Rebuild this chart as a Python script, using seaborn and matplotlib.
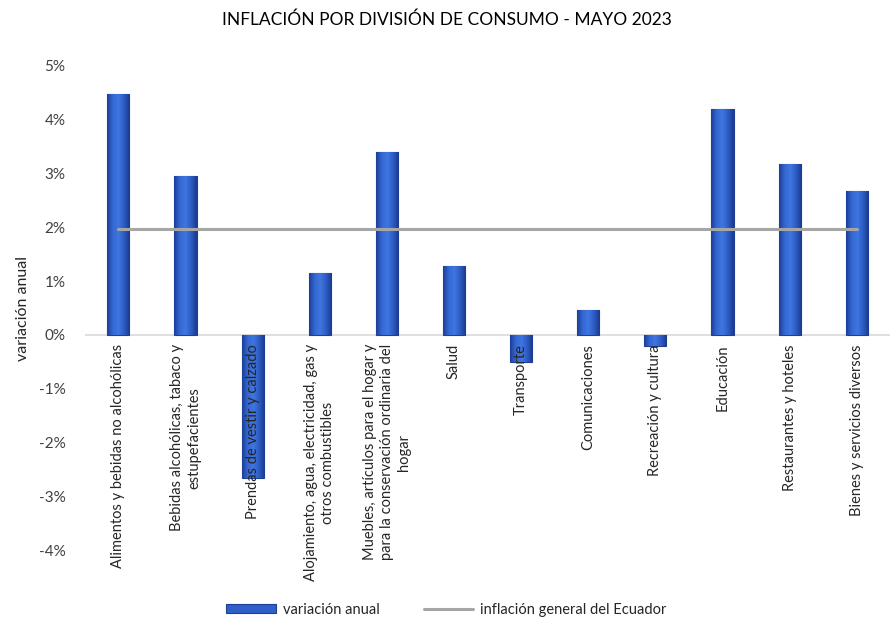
import numpy as np
import pandas as pd
import matplotlib
matplotlib.use("Agg")
import matplotlib.pyplot as plt
from matplotlib.patches import Patch
from matplotlib.lines import Line2D
from matplotlib.colors import LinearSegmentedColormap
import seaborn as sns

# Annual inflation by consumption division, May 2023 (%)
categorias = [
    "Alimentos y bebidas no alcohólicas",
    "Bebidas alcohólicas, tabaco y\nestupefacientes",
    "Prendas de vestir y calzado",
    "Alojamiento, agua, electricidad, gas y\notros combustibles",
    "Muebles, artículos para el hogar y\npara la conservación ordinaria del\nhogar",
    "Salud",
    "Transporte",
    "Comunicaciones",
    "Recreación y cultura",
    "Educación",
    "Restaurantes y hoteles",
    "Bienes y servicios diversos",
]
variacion_anual = [4.48, 2.96, -2.66, 1.15, 3.40, 1.28, -0.50, 0.46, -0.20, 4.20, 3.18, 2.68]
inflacion_general = 1.97
y_ticks = [5, 4, 3, 2, 1, 0, -1, -2, -3, -4]
y_tick_labels = ["5%", "4%", "3%", "2%", "1%", "0%", "-1%", "-2%", "-3%", "-4%"]

sns.set_theme(style="white")
plt.rcParams["font.family"] = ["Lato", "DejaVu Sans"]

df = pd.DataFrame({"division": categorias, "variacion": variacion_anual})

fig = plt.figure(figsize=(8.93, 6.21), dpi=100)
ax = fig.add_axes([0.095, 0.114, 0.902, 0.780])

sns.barplot(data=df, x="division", y="variacion", ax=ax, width=0.33,
            color="#2F5FC8", edgecolor="#1E3F95", linewidth=0.8,
            saturation=1, zorder=2)

# Horizontal shading on each bar for a rounded, beveled look
bar_cmap = LinearSegmentedColormap.from_list(
    "bevel", ["#1C3E96", "#3568D4", "#3F76E0", "#2E5CC4", "#1A3A8C"])
grad = np.linspace(0, 1, 64).reshape(1, -1)
for p in ax.patches:
    x0, y0 = p.get_x(), p.get_y()
    w, h = p.get_width(), p.get_height()
    im = ax.imshow(grad, cmap=bar_cmap, aspect="auto",
                   extent=[x0, x0 + w, min(y0, y0 + h), max(y0, y0 + h)],
                   zorder=2.5, interpolation="bicubic")
    im.set_clip_path(p)

# General inflation reference line
n = len(categorias)
sns.lineplot(x=np.arange(n), y=[inflacion_general] * n, ax=ax,
             color="#A6A6A6", linewidth=2.2, zorder=3)

ax.set_xlim(-0.5, n - 0.5)
ax.set_ylim(-4, 5)
ax.axhline(0, color="#D9D9D9", linewidth=1.2, zorder=1)

ax.set_yticks(y_ticks)
ax.set_yticklabels(y_tick_labels, fontsize=11, color="#404040")
ax.tick_params(axis="y", length=0, pad=14)

ax.set_xticks(range(n))
ax.set_xticklabels([])
ax.tick_params(axis="x", length=0)
for i, lab in enumerate(categorias):
    ax.text(i, -0.17, lab, rotation=90, ha="center", va="top",
            multialignment="center", fontsize=10.5, linespacing=1.25,
            color="#262626", zorder=4)

ax.set_xlabel("")
ax.set_ylabel("variación anual", fontsize=11.5, color="#262626", labelpad=6)
for s in ax.spines.values():
    s.set_visible(False)

fig.text(0.5, 0.968, "INFLACIÓN POR DIVISIÓN DE CONSUMO - MAYO 2023",
         ha="center", va="center", fontsize=12.5, color="black")

handles = [
    Patch(facecolor="#2F5FC8", edgecolor="#1E3F95", linewidth=0.8),
    Line2D([0], [0], color="#A6A6A6", linewidth=2.2),
]
fig.legend(handles, ["variación anual", "inflación general del Ecuador"],
           loc="center", bbox_to_anchor=(0.5, 0.018), ncol=2, frameon=False,
           fontsize=10.5, handlelength=3.4, handleheight=0.5,
           handletextpad=0.5, columnspacing=3.0, labelcolor="#262626")

fig.savefig("out.png", dpi=100)
